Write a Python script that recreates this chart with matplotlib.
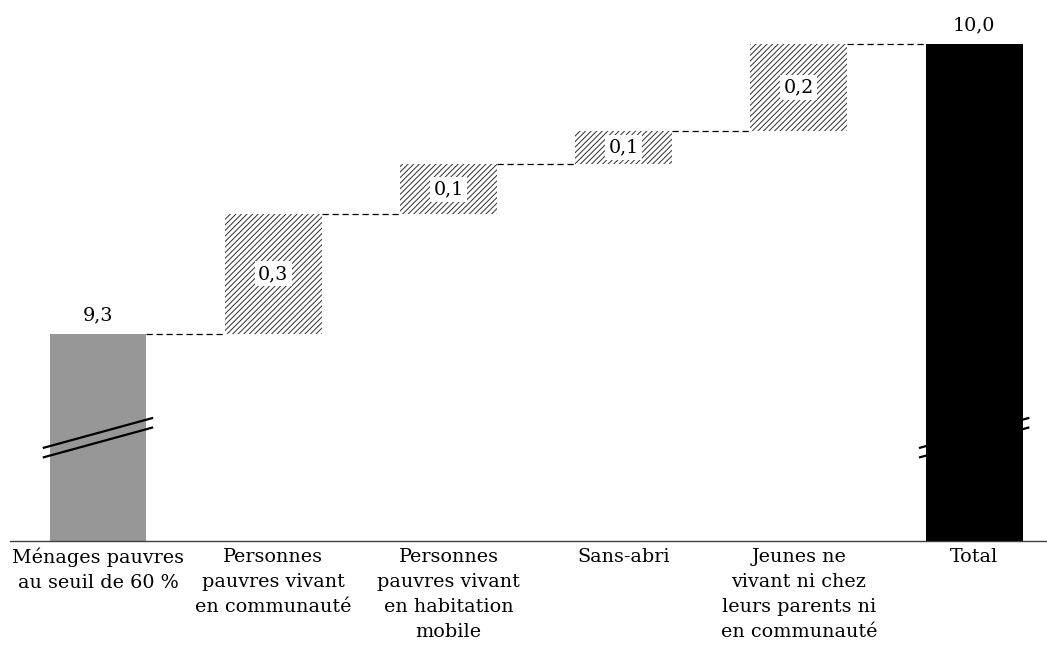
import matplotlib
matplotlib.use("Agg")
import matplotlib.pyplot as plt
import numpy as np

categories = ["Ménages pauvres\nau seuil de 60 %",
              "Personnes\npauvres vivant\nen communauté",
              "Personnes\npauvres vivant\nen habitation\nmobile",
              "Sans-abri",
              "Jeunes ne\nvivant ni chez\nleurs parents ni\nen communauté",
              "Total"]
base_value = 9.3
increments = [0.29, 0.12, 0.08, 0.21]
total_value = 10.0

plt.rcParams['font.family'] = ['DejaVu Serif']
plt.rcParams['hatch.linewidth'] = 0.7
FS = 13.8

fig = plt.figure(figsize=(10.47, 6.5), dpi=100)
ax = fig.add_axes([10/1047, (650-540.7)/650, (1046-10)/1047, 540.7/650])

x = np.arange(len(categories))
width = 0.553
ymin = 8.80

# base bar
ax.bar(x[0], base_value - ymin, bottom=ymin, width=width, color='#979797', zorder=2)
# total bar
ax.bar(x[-1], total_value - ymin, bottom=ymin, width=width, color='black', zorder=3)

# increments
cum = base_value
tops = [base_value]
for i, inc in enumerate(increments):
    xi = x[i + 1]
    ax.bar(xi, inc, bottom=cum, width=width, color='white', edgecolor='#2e2e2e',
           hatch='//////', linewidth=0, zorder=2)
    ax.text(xi, cum + inc / 2, f"{inc:.1f}".replace('.', ','), ha='center', va='center',
            fontsize=FS, zorder=4,
            bbox=dict(facecolor='white', edgecolor='none', pad=2.5))
    cum += inc
    tops.append(cum)
tops.append(total_value)

# connectors
for i in range(len(categories) - 1):
    ax.plot([x[i] + width / 2, x[i + 1] - width / 2], [tops[i], tops[i]],
            color='black', lw=0.9, ls=(0, (5, 3)), zorder=1)

# labels on base and total
ax.text(x[0], base_value + 0.022, f"{base_value:.1f}".replace('.', ','), ha='center', va='bottom', fontsize=FS)
ax.text(x[-1], total_value + 0.025, f"{total_value:.1f}".replace('.', ','), ha='center', va='bottom', fontsize=FS)

# axis break marks
bx = 0.315
for xc, z in [(x[0], 4), (x[-1], 2)]:
    for yo in (0.0, 0.023):
        ax.plot([xc - bx, xc + bx], [9.001 + yo, 9.074 + yo], color='black', lw=1.6,
                solid_capstyle='butt', zorder=z)

ax.set_xlim(-0.502, 5.41)
ax.set_ylim(ymin, 10.107)
ax.set_xticks(x)
ax.set_xticklabels(categories, fontsize=FS, linespacing=1.5, va='top')
ax.tick_params(axis='x', length=0, pad=5)
ax.set_yticks([])
for s in ['top', 'right', 'left']:
    ax.spines[s].set_visible(False)
ax.spines['bottom'].set_color('#404040')
ax.spines['bottom'].set_linewidth(1.0)

fig.savefig("out.png", dpi=100)
